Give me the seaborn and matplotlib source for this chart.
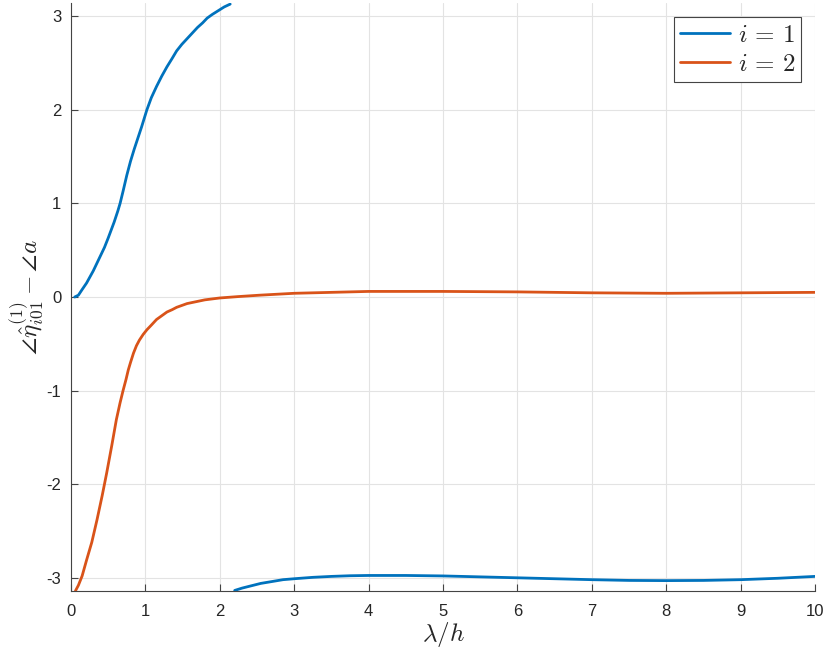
import matplotlib
matplotlib.use("Agg")
import matplotlib.pyplot as plt
import numpy as np
import pandas as pd
import seaborn as sns

# i = 1, first branch (wraps at +pi)
lam_1a = [0.05, 0.10, 0.15, 0.21, 0.30, 0.39, 0.45, 0.50, 0.58, 0.63, 0.66, 0.70,
          0.75, 0.80, 0.85, 0.90, 0.95, 1.02, 1.08, 1.15, 1.22, 1.29, 1.36, 1.42,
          1.49, 1.56, 1.63, 1.70, 1.77, 1.83, 1.90, 1.98, 2.06, 2.14]
phase_1a = [0.0, 0.02, 0.08, 0.15, 0.28, 0.43, 0.53, 0.63, 0.80, 0.92, 1.00, 1.13,
            1.30, 1.45, 1.58, 1.70, 1.82, 2.00, 2.13, 2.25, 2.36, 2.46, 2.55, 2.63,
            2.70, 2.76, 2.82, 2.88, 2.93, 2.98, 3.02, 3.06, 3.10, 3.13]

# i = 1, second branch (after wrapping to -pi)
lam_1b = [2.20, 2.30, 2.40, 2.55, 2.70, 2.85, 3.0, 3.25, 3.5, 3.75, 4.0, 4.5, 5.0,
          5.5, 6.0, 6.5, 7.0, 7.5, 8.0, 8.5, 9.0, 9.5, 10.0]
phase_1b = [-3.135, -3.11, -3.09, -3.06, -3.04, -3.02, -3.01, -2.995, -2.985,
            -2.978, -2.975, -2.975, -2.98, -2.99, -3.0, -3.01, -3.02, -3.028, -3.03,
            -3.028, -3.02, -3.005, -2.985]

# i = 2
lam_2 = [0.06, 0.10, 0.15, 0.21, 0.28, 0.35, 0.42, 0.48, 0.55, 0.61, 0.66, 0.70,
         0.74, 0.77, 0.80, 0.84, 0.88, 0.92, 0.97, 1.02, 1.08, 1.15, 1.22, 1.29,
         1.36, 1.42, 1.49, 1.56, 1.68, 1.80, 1.90, 2.0, 2.25, 2.54, 3.0, 3.5, 4.0,
         4.5, 5.0, 6.0, 7.0, 8.0, 9.0, 10.0]
phase_2 = [-3.14, -3.08, -2.98, -2.81, -2.62, -2.38, -2.12, -1.88, -1.58, -1.31,
           -1.13, -1.00, -0.88, -0.78, -0.70, -0.60, -0.52, -0.46, -0.40, -0.35,
           -0.30, -0.24, -0.20, -0.16, -0.135, -0.11, -0.09, -0.07, -0.05, -0.03,
           -0.02, -0.01, 0.005, 0.02, 0.04, 0.05, 0.06, 0.06, 0.06, 0.055, 0.045,
           0.04, 0.045, 0.05]

BLUE = "#0072BD"
ORANGE = "#D95319"

sns.set_theme(style="whitegrid")
plt.rcParams["font.family"] = ["Liberation Sans", "DejaVu Sans"]
plt.rcParams["mathtext.fontset"] = "cm"

fig = plt.figure(figsize=(8.3, 6.56), dpi=100)
ax = fig.add_axes([0.0855, 0.099, 0.8965, 0.8964])

df_1a = pd.DataFrame({"lam": lam_1a, "phase": phase_1a})
df_1b = pd.DataFrame({"lam": lam_1b, "phase": phase_1b})
df_2 = pd.DataFrame({"lam": lam_2, "phase": phase_2})

sns.lineplot(data=df_1a, x="lam", y="phase", ax=ax, color=BLUE, lw=2, label=r"$i\,=\,1$")
sns.lineplot(data=df_1b, x="lam", y="phase", ax=ax, color=BLUE, lw=2)
sns.lineplot(data=df_2, x="lam", y="phase", ax=ax, color=ORANGE, lw=2, label=r"$i\,=\,2$")

ax.set_xlim(0, 10)
ax.set_ylim(-np.pi, np.pi)
ax.set_xticks(range(0, 11))
ax.set_yticks(range(-3, 4))
ax.set_yticklabels([str(v) for v in range(-3, 4)])
ax.set_facecolor("white")
ax.grid(True, color="#e3e3e3", linewidth=0.8)
for side in ["top", "right"]:
    ax.spines[side].set_visible(False)
for side in ["left", "bottom"]:
    ax.spines[side].set_color("#444444")
    ax.spines[side].set_linewidth(0.8)
ax.tick_params(direction="in", length=5, width=0.8, color="#444444",
               labelsize=12, labelcolor="#262626", left=True, bottom=True)
ax.tick_params(axis="x", pad=9)
ax.tick_params(axis="y", pad=7)
ax.set_xlabel(r"$\lambda/h$", fontsize=18, labelpad=1)
ax.set_ylabel(r"$\angle\hat{\eta}^{(1)}_{i01}-\angle a$", fontsize=18, labelpad=0)

leg = ax.legend(loc="upper right", fontsize=18, frameon=True, fancybox=False,
                borderaxespad=0.55, handlelength=2.0, borderpad=0.25,
                labelspacing=0.2, handletextpad=0.3)
leg.get_frame().set_edgecolor("#444444")
leg.get_frame().set_linewidth(0.8)
leg.get_frame().set_alpha(1)

fig.savefig("out.png", dpi=100)
